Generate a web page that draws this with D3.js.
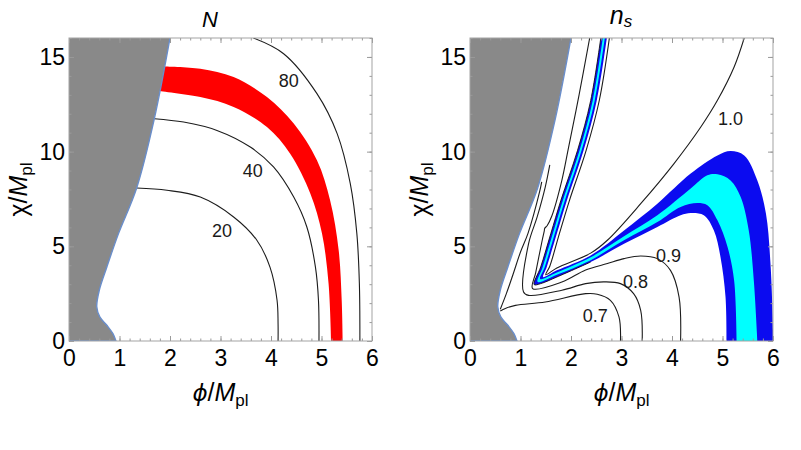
<!DOCTYPE html>
<html>
<head>
<meta charset="utf-8">
<script src="https://cdn.jsdelivr.net/npm/d3@7"></script>
<style>
  body { margin: 0; background: #fff; }
  text { font-family: "Liberation Sans", Arial, "DejaVu Sans", sans-serif; }
</style>
</head>
<body>
<svg id="vis" width="801" height="450"></svg>
<script>
const width = 801;
const height = 450;
const plotSize = 303;
const plotTop = 38;
const panelLefts = [69, 470];

const xDomain = [0, 6];
const yDomain = [0, 16];
const xTicks = [0, 1, 2, 3, 4, 5, 6];
const yTicks = [0, 5, 10, 15];

// edge of the excluded (grey) region, [phi, chi]
const excludedEdge = [[0.93, 0], [0.87, 0.39], [0.75, 0.83], [0.61, 1.27], [0.55, 1.8], [0.6, 2.68],
  [0.75, 3.91], [0.98, 5.67], [1.34, 8.08], [1.69, 11.74], [2.0, 16]];

// ---- left panel : N ----
const nContour20 = [[1.34, 8.08], [1.94, 7.96], [2.6, 7.6], [3.26, 6.55], [3.72, 5.32], [3.98, 3.9],
  [4.12, 2.15], [4.14, 0.9], [4.14, 0]];
const nContour40 = [[1.69, 11.74], [2.27, 11.56], [2.93, 11.12], [3.59, 10.24], [4.05, 9.19], [4.45, 7.6],
  [4.71, 6.02], [4.88, 3.9], [4.94, 2.15], [4.95, 0]];
const nContour80 = [[3.65, 16], [4.25, 15.17], [4.91, 13.06], [5.31, 10.95], [5.57, 8.31], [5.70, 5.67],
  [5.75, 3.03], [5.76, 0]];
const nBandTop = [[1.87, 14.5], [2.6, 14.38], [3.26, 13.94], [3.92, 12.88], [4.45, 11.48], [4.91, 9.54],
  [5.17, 7.43], [5.34, 4.79], [5.40, 2.15], [5.42, 0]];
const nBandBottom = [[1.77, 13.2], [2.6, 12.88], [3.26, 12.36], [3.92, 11.3], [4.38, 9.89], [4.78, 7.78],
  [5.01, 5.67], [5.14, 3.03], [5.19, 0]];
const nLabelText = ["20", "40", "80"];
const nLabelAt = [[3.03, 5.85], [3.64, 9.01], [4.35, 13.76]];

// ---- right panel : n_s ----
const ns07 = [[2.98, 0], [2.95, 1.27], [2.78, 2.15], [2.52, 2.47], [2.29, 2.5], [1.49, 2.06], [0.9, 1.88],
  [0.7, 1.72], [0.6, 1.58]];
const nsEdgeLine = [[0.6, 1.68], [0.72, 2.5], [0.85, 3.5], [1.0, 4.7], [1.15, 5.7], [1.38, 7.9], [1.42, 8.4]];
const ns08 = [[3.41, 0], [3.38, 1.62], [3.24, 2.5], [2.98, 3.03], [2.65, 3.12], [2.29, 3.03], [1.82, 2.68],
  [1.16, 2.41], [1.06, 2.59], [1.16, 5.14], [1.33, 6.55], [1.49, 8.13], [1.58, 9.3]];
const ns09 = [[4.17, 0], [4.14, 2.32], [3.97, 3.73], [3.71, 4.35], [3.38, 4.49], [3.05, 4.35], [2.72, 4.09],
  [2.29, 3.75], [1.82, 3.11], [1.24, 2.77], [1.3, 3.6], [1.43, 5.32], [1.47, 5.8], [1.48, 5.95], [1.53, 6.1],
  [1.62, 6.6], [1.82, 8.5], [1.95, 10.2], [2.16, 13], [2.37, 16]];
const ns10 = [[5.43, 16], [5.23, 14.47], [4.9, 12.71], [4.57, 11.3], [4.04, 9.37], [3.38, 7.25], [2.72, 5.32],
  [2.39, 4.64], [1.72, 3.86], [1.5, 3.5], [1.58, 3.95], [1.77, 5.67], [1.97, 7.43], [2.3, 10.07],
  [2.56, 12.7], [2.76, 16]];
const nsBlueHigh = [[2.71, 16], [2.51, 12.7], [2.25, 10.07], [1.92, 7.43], [1.72, 5.67], [1.52, 3.91],
  [1.45, 3.38], [1.72, 3.73], [2.39, 4.52], [3.05, 5.84], [3.71, 7.25], [4.37, 8.84], [4.9, 9.8],
  [5.16, 10.03], [5.43, 9.8], [5.69, 8.48], [5.86, 6.73], [5.95, 4.09], [6.0, 0.56], [6.0, 0]];
const nsBlueLow = [[2.59, 16], [2.39, 12.7], [2.13, 10.07], [1.80, 7.43], [1.60, 5.67], [1.40, 3.91],
  [1.27, 2.98], [1.40, 3.03], [1.72, 3.38], [2.39, 4.17], [3.05, 5.13], [3.71, 6.02], [4.17, 6.64],
  [4.37, 6.76], [4.63, 6.64], [4.83, 5.84], [4.96, 4.44], [5.06, 2.32], [5.08, 0]];
const nsCyanHigh = [[2.67, 16], [2.47, 12.7], [2.21, 10.07], [1.88, 7.43], [1.68, 5.67], [1.48, 3.91],
  [1.39, 3.28], [1.72, 3.62], [2.39, 4.42], [3.05, 5.53], [3.71, 6.64], [4.37, 8.05], [4.7, 8.75],
  [4.9, 8.8], [5.16, 8.48], [5.36, 7.6], [5.52, 5.84], [5.62, 3.2], [5.69, 0]];
const nsCyanLow = [[2.63, 16], [2.43, 12.7], [2.17, 10.07], [1.84, 7.43], [1.64, 5.67], [1.44, 3.91],
  [1.34, 3.12], [1.72, 3.5], [2.39, 4.27], [3.05, 5.32], [3.71, 6.28], [4.17, 7.08], [4.5, 7.29],
  [4.7, 7.17], [4.9, 6.37], [5.1, 4.96], [5.23, 3.2], [5.28, 0]];
const nsLabelText = ["0.7", "0.8", "0.9", "1.0"];
const nsLabelAt = [[2.48, 1.36], [3.28, 3.12], [3.93, 4.52], [5.16, 11.74]];

const svg = d3.select("#vis");

function makeScales(left) {
  const x = d3.scaleLinear().domain(xDomain).range([left, left + plotSize]);
  const y = d3.scaleLinear().domain(yDomain).range([plotTop + plotSize, plotTop]);
  return { x, y };
}

function curveMaker(x, y) {
  return d3.line()
    .x(d => x(d[0]))
    .y(d => y(d[1]))
    .curve(d3.curveCatmullRom.alpha(0.5));
}

function bandPath(line, upper, lower) {
  return line(upper) + line(lower.slice().reverse()).replace(/^M/, "L") + "Z";
}

function drawPanel(idx) {
  const { x, y } = makeScales(panelLefts[idx]);
  const line = curveMaker(x, y);
  const g = svg.append("g");

  g.append("clipPath").attr("id", "clip" + idx)
    .append("rect")
    .attr("x", x(0)).attr("y", y(16))
    .attr("width", x(6) - x(0)).attr("height", y(0) - y(16));

  const plot = g.append("g").attr("clip-path", `url(#clip${idx})`);
  return { x, y, line, g, plot };
}

function drawExcluded(p) {
  const { x, y, line, plot } = p;
  plot.append("path")
    .attr("d", `M${x(0)},${y(0)}` + line(excludedEdge).replace(/^M/, "L") + `L${x(0)},${y(16)}Z`)
    .attr("fill", "#898989");
  plot.append("path")
    .attr("d", `M${x(0)},${y(0)}` + line(excludedEdge).replace(/^M/, "L"))
    .attr("fill", "none")
    .attr("stroke", "#6a8ecb")
    .attr("stroke-width", 1.4);
}

function drawContours(p, lines) {
  p.plot.selectAll("path.contour")
    .data(lines)
    .join("path")
    .attr("class", "contour")
    .attr("d", p.line)
    .attr("fill", "none")
    .attr("stroke", "#1c1c1c")
    .attr("stroke-width", 1.1);
}

function drawLabels(p, texts, at) {
  p.g.selectAll("text.clabel")
    .data(texts)
    .join("text")
    .attr("class", "clabel")
    .attr("x", (d, i) => p.x(at[i][0]))
    .attr("y", (d, i) => p.y(at[i][1]))
    .attr("dy", "0.36em")
    .attr("text-anchor", "middle")
    .attr("font-size", 18)
    .attr("fill", "#1a1a1a")
    .text(d => d);
}

function drawFrame(p) {
  const { x, y, g } = p;
  const styleAxis = sel => {
    sel.select(".domain").remove();
    sel.selectAll("line").attr("stroke", "#9a9a9a");
    sel.selectAll("text").attr("font-size", 23).attr("fill", "#000")
      .attr("font-family", "'Liberation Sans', Arial, sans-serif");
  };
  // minor ticks
  g.append("g").attr("transform", `translate(0,${y(0)})`)
    .call(d3.axisBottom(x).ticks(30).tickSize(-2.5).tickFormat("")).call(styleAxis);
  g.append("g").attr("transform", `translate(0,${y(16)})`)
    .call(d3.axisTop(x).ticks(30).tickSize(-2.5).tickFormat("")).call(styleAxis);
  g.append("g").attr("transform", `translate(${x(0)},0)`)
    .call(d3.axisLeft(y).ticks(16).tickSize(-2.5).tickFormat("")).call(styleAxis);
  g.append("g").attr("transform", `translate(${x(6)},0)`)
    .call(d3.axisRight(y).ticks(16).tickSize(-2.5).tickFormat("")).call(styleAxis);
  // major ticks
  g.append("g").attr("transform", `translate(0,${y(0)})`)
    .call(d3.axisBottom(x).tickValues(xTicks).tickSize(-5).tickPadding(9).tickFormat(d3.format("d")))
    .call(styleAxis);
  g.append("g").attr("transform", `translate(0,${y(16)})`)
    .call(d3.axisTop(x).tickValues(xTicks).tickSize(-5).tickFormat("")).call(styleAxis);
  g.append("g").attr("transform", `translate(${x(0)},0)`)
    .call(d3.axisLeft(y).tickValues(yTicks).tickSize(-5).tickPadding(4).tickFormat(d3.format("d")))
    .call(styleAxis);
  g.append("g").attr("transform", `translate(${x(6)},0)`)
    .call(d3.axisRight(y).tickValues(yTicks).tickSize(-5).tickFormat("")).call(styleAxis);

  g.append("rect")
    .attr("x", x(0)).attr("y", y(16))
    .attr("width", x(6) - x(0)).attr("height", y(0) - y(16))
    .attr("fill", "none")
    .attr("stroke", "#a3a3a3")
    .attr("stroke-width", 1);

  // axis titles
  const xt = g.append("text")
    .attr("x", (x(0) + x(6)) / 2)
    .attr("y", 401)
    .attr("text-anchor", "middle")
    .attr("font-size", 25);
  xt.append("tspan").attr("font-style", "italic").attr("font-family", "'DejaVu Sans', sans-serif")
    .attr("font-size", 23).text("ϕ");
  xt.append("tspan").text("/");
  xt.append("tspan").attr("font-style", "italic").text("M");
  xt.append("tspan").attr("font-size", 17).attr("dy", 5).text("pl");

  const cy = (y(0) + y(16)) / 2;
  const yt = g.append("text")
    .attr("transform", `translate(${x(0) - 42},${cy}) rotate(-90)`)
    .attr("text-anchor", "middle")
    .attr("font-size", 25);
  yt.append("tspan").text("χ");
  yt.append("tspan").text("/");
  yt.append("tspan").attr("font-style", "italic").text("M");
  yt.append("tspan").attr("font-size", 17).attr("dy", 5).text("pl");
}

// ---- left panel ----
const left = drawPanel(0);
left.plot.append("path")
  .attr("d", bandPath(left.line, nBandTop, nBandBottom))
  .attr("fill", "#ff0000");
drawContours(left, [nContour20, nContour40, nContour80]);
drawExcluded(left);
drawLabels(left, nLabelText, nLabelAt);
drawFrame(left);
svg.append("text")
  .attr("x", 210).attr("y", 26.5)
  .attr("text-anchor", "middle")
  .attr("font-family", "'Liberation Serif', 'Times New Roman', serif")
  .attr("font-style", "italic")
  .attr("font-size", 22)
  .text("N");

// ---- right panel ----
const right = drawPanel(1);
right.plot.append("path")
  .attr("d", bandPath(right.line, nsBlueHigh, nsBlueLow))
  .attr("fill", "#0b0bf0");
right.plot.append("path")
  .attr("d", bandPath(right.line, nsCyanHigh, nsCyanLow))
  .attr("fill", "#00ffff");
// dark edge of the narrow arm of the band
right.plot.append("path")
  .attr("d", right.line(nsBlueLow.slice(0, 10)))
  .attr("fill", "none")
  .attr("stroke", "#111")
  .attr("stroke-width", 0.9);
drawContours(right, [ns07, nsEdgeLine, ns08, ns09, ns10]);
drawExcluded(right);
drawLabels(right, nsLabelText, nsLabelAt);
drawFrame(right);
const ttl = svg.append("text")
  .attr("x", 621).attr("y", 24)
  .attr("text-anchor", "middle")
  .attr("font-family", "'Liberation Serif', 'Times New Roman', serif")
  .attr("font-style", "italic")
  .attr("font-size", 25);
ttl.append("tspan").text("n");
ttl.append("tspan").attr("font-size", 17).attr("dy", 3).text("s");
</script>
</body>
</html>
